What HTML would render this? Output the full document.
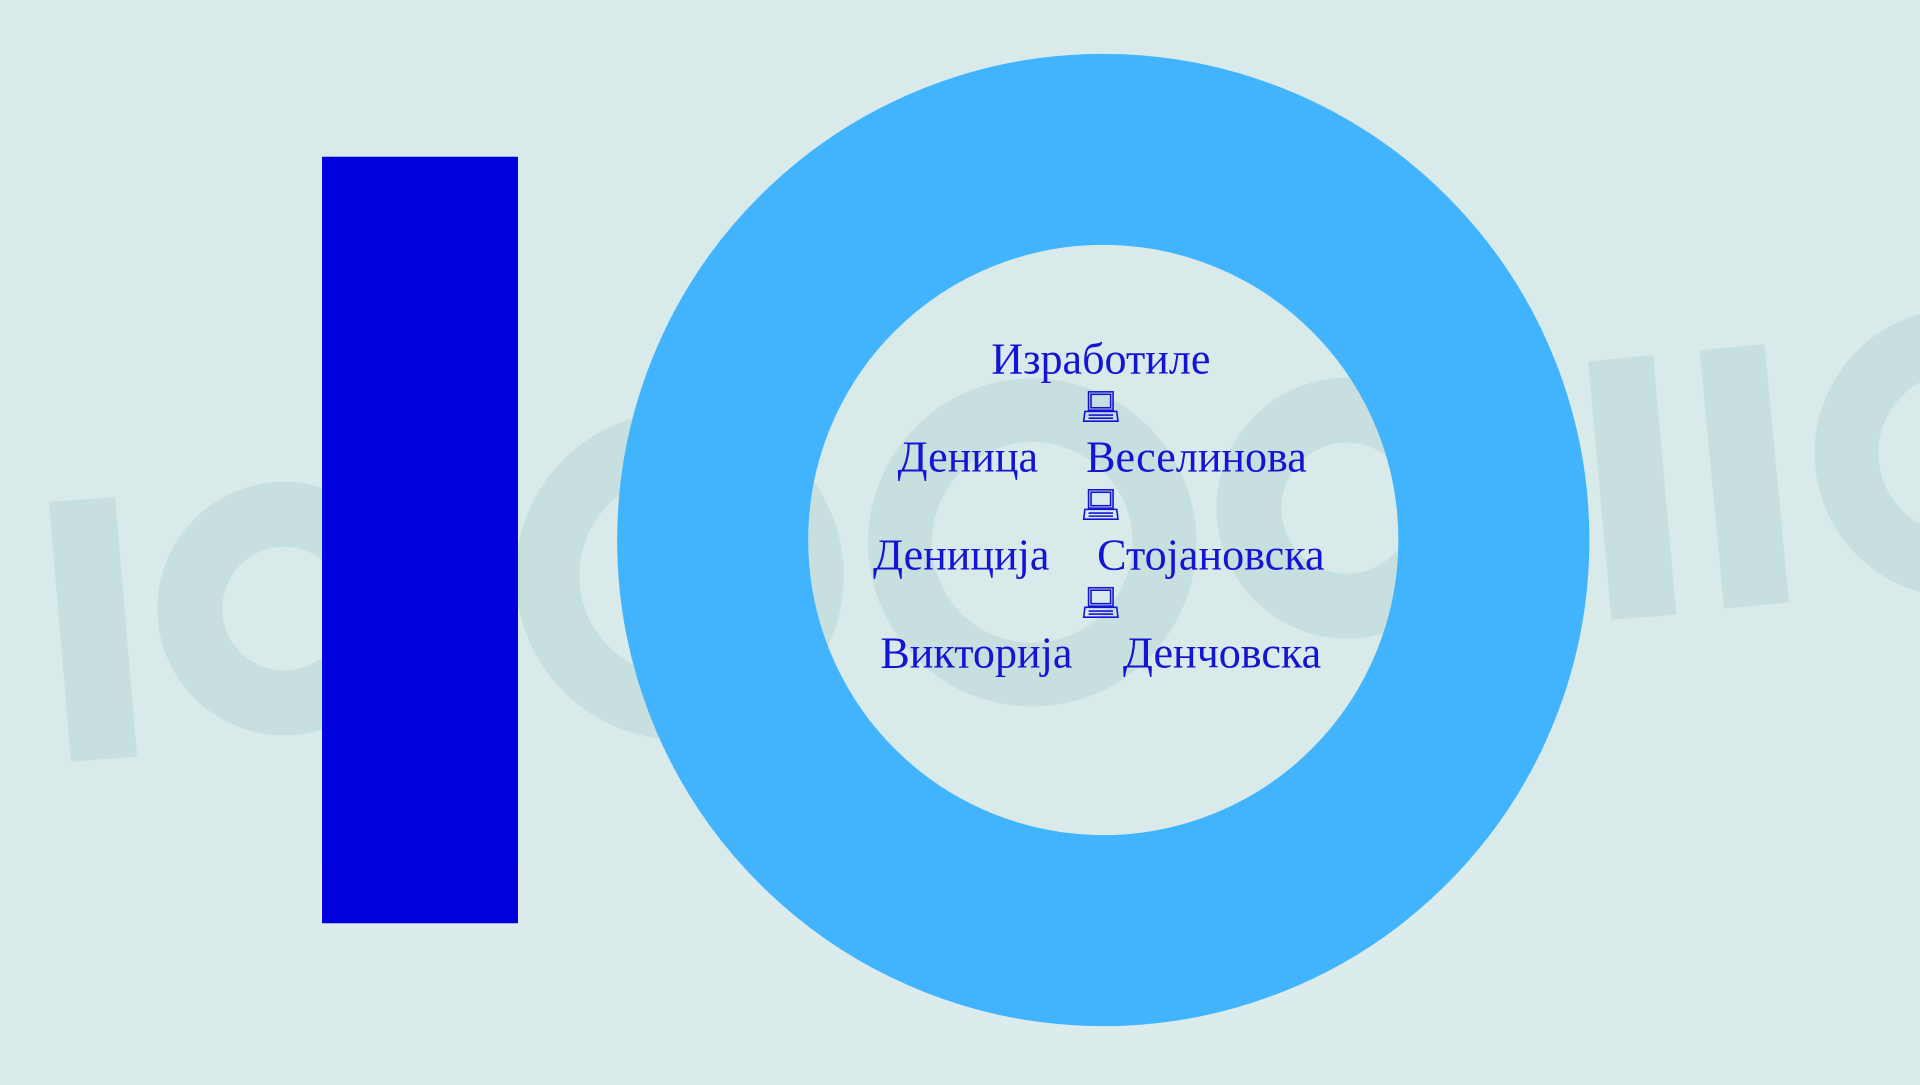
<!DOCTYPE html>
<html><head><meta charset="utf-8"><style>html,body{margin:0;padding:0;overflow:hidden;background:#d8eaea}</style></head>
<body>
<svg width="1920" height="1080" viewBox="0 0 1568 882" xmlns="http://www.w3.org/2000/svg" preserveAspectRatio="none">
<rect width="1568" height="882" fill="#d8eaea"/>
<rect x="33" y="705" width="1535" height="177" fill="#dcecec"/>
<g fill="#c8dfe0">
<polygon points="40,410 94,406 112,618 58,622"/>
<polygon points="1297,295 1350,290 1369,502 1316,506"/>
<polygon points="1388,286 1441,281 1461,492 1408,497"/>
</g>
<g fill="none" stroke="#c8dfe0">
<circle cx="232" cy="497" r="77" stroke-width="53"/>
<circle cx="555" cy="470" r="108" stroke-width="52"/>
<circle cx="843" cy="443" r="108" stroke-width="52"/>
<circle cx="1100" cy="415" r="80" stroke-width="53"/>
<circle cx="1600" cy="370" r="92" stroke-width="52"/>
</g>
<rect x="263" y="128" width="160" height="626" fill="#0000dc"/>
<circle cx="901" cy="441" r="319" fill="none" stroke="#41b4fd" stroke-width="156"/>
<g font-family="Liberation Serif, serif" font-size="36" fill="#1414d4">
<text x="899" y="305" text-anchor="middle">Изработиле</text>
<text x="733" y="385">Деница</text>
<text x="887" y="385">Веселинова</text>
<text x="713" y="465">Деницијa</text>
<text x="896" y="465">Стојановска</text>
<text x="719" y="545">Викторија</text>
<text x="917" y="545">Денчовска</text>
</g>
<g fill="none" stroke="#1414d4" stroke-width="1.3">
<g transform="translate(0,0)"><rect x="889" y="320" width="20" height="15"/><rect x="891" y="322" width="16" height="11"/><path d="M886 336h26l1 8h-28z"/><path d="M889 339h20M889 341.5h20"/></g>
<g transform="translate(0,80)"><rect x="889" y="320" width="20" height="15"/><rect x="891" y="322" width="16" height="11"/><path d="M886 336h26l1 8h-28z"/><path d="M889 339h20M889 341.5h20"/></g>
<g transform="translate(0,160)"><rect x="889" y="320" width="20" height="15"/><rect x="891" y="322" width="16" height="11"/><path d="M886 336h26l1 8h-28z"/><path d="M889 339h20M889 341.5h20"/></g>
</g>
</svg>
</body></html>
